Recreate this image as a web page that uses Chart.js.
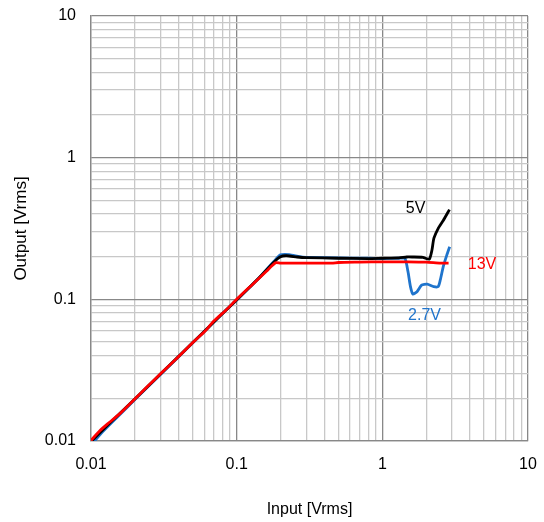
<!DOCTYPE html>
<html>
<head>
<meta charset="utf-8">
<script src="https://cdn.jsdelivr.net/npm/chart.js@4/dist/chart.umd.min.js"></script>
<style>
    html, body { margin: 0; padding: 0; background: #fff; }
    #wrap { width: 544px; height: 522px; }
</style>
</head>
<body>
<div id="wrap"><canvas id="chart"></canvas></div>
<script>
// decade ticks and the 2..9 steps inside each decade
const DECADES = [0.01, 0.1, 1, 10];
const DECADE_LABELS = ['0.01', '0.1', '1', '10'];
const MINOR_STEPS = [2, 3, 4, 5, 6, 7, 8, 9];

// 13V supply
const RED_X = [0.01, 0.0115, 0.013, 0.016, 0.02, 0.025, 0.03, 0.04, 0.05, 0.06, 0.07, 0.085, 0.1, 0.13, 0.16, 0.185, 0.2, 0.3, 0.45, 0.5, 0.7, 1.0, 1.5, 2.0, 2.5, 2.85];
const RED_Y = [0.0101, 0.0118, 0.0132, 0.0158, 0.0198, 0.0248, 0.0298, 0.0395, 0.0495, 0.059, 0.0705, 0.0845, 0.1, 0.129, 0.158, 0.181, 0.18, 0.18, 0.18, 0.182, 0.183, 0.184, 0.184, 0.183, 0.18, 0.18];

// 5V supply
const BLACK_X = [0.0102, 0.012, 0.015, 0.02, 0.03, 0.05, 0.07, 0.1, 0.14, 0.18, 0.2, 0.22, 0.26, 0.3, 0.5, 0.8, 1.0, 1.3, 1.47, 1.6, 1.9, 2.1, 2.19, 2.26, 2.42, 2.62, 2.89];
const BLACK_Y = [0.0101, 0.0119, 0.0149, 0.0198, 0.0297, 0.0495, 0.0695, 0.099, 0.139, 0.183, 0.2, 0.203, 0.199, 0.197, 0.195, 0.194, 0.195, 0.196, 0.199, 0.199, 0.198, 0.192, 0.222, 0.27, 0.317, 0.36, 0.43];

// 2.7V supply
const BLUE_X = [0.0105, 0.012, 0.015, 0.02, 0.03, 0.05, 0.07, 0.1, 0.14, 0.18, 0.2, 0.23, 0.27, 0.3, 0.5, 0.8, 1.0, 1.3, 1.43, 1.5, 1.56, 1.62, 1.73, 1.86, 2.03, 2.25, 2.42, 2.5, 2.62, 2.77, 2.9];
const BLUE_Y = [0.0099, 0.0116, 0.0146, 0.0196, 0.0295, 0.0493, 0.0695, 0.099, 0.139, 0.185, 0.206, 0.207, 0.2, 0.198, 0.196, 0.195, 0.194, 0.195, 0.194, 0.157, 0.123, 0.109, 0.113, 0.126, 0.128, 0.123, 0.123, 0.137, 0.17, 0.205, 0.235];

// series names placed next to their curves (data coordinates)
const SERIES_LABELS = [
    { text: '5V', x: 1.69, y: 0.44, color: '#000000' },
    { text: '13V', x: 4.83, y: 0.175, color: '#ff0000' },
    { text: '2.7V', x: 1.95, y: 0.077, color: '#1f74cc' },
];

const FONT = "'Liberation Sans', Arial, sans-serif";

const allTicks = [];
DECADES.forEach((d, i) => {
    allTicks.push(d);
    if (i < DECADES.length - 1) {
        MINOR_STEPS.forEach(s => allTicks.push(d * s));
    }
});

const isDecade = v => Math.abs(Math.log10(v) - Math.round(Math.log10(v))) < 1e-6;

const tickLabel = v => {
    const i = DECADES.findIndex(d => Math.abs(d - v) < d * 1e-6);
    return i >= 0 ? DECADE_LABELS[i] : '';
};

const points = (xs, ys) => xs.map((x, i) => ({ x, y: ys[i] }));

const line = (data, color) => ({
    data,
    showLine: true,
    borderColor: color,
    backgroundColor: color,
    borderWidth: 2.8,
    pointRadius: 0,
    tension: 0.2,
});

// fixed box size, no extra room for overhanging tick labels
const fixSize = (prop, size) => scale => {
    scale[prop] = size;
    scale.paddingTop = scale.paddingBottom = scale.paddingLeft = scale.paddingRight = 0;
};

const axis = (extra) => Object.assign({
    type: 'logarithmic',
    min: 0.01,
    max: 10,
    afterBuildTicks: scale => {
        scale.ticks = allTicks.map(value => ({ value }));
    },
    grid: {
        drawTicks: false,
        color: ctx => (ctx.tick && isDecade(ctx.tick.value) ? '#888888' : '#c8c8c8'),
        lineWidth: 1.3,
    },
    border: { color: '#888888', width: 1.3 },
}, extra);

const seriesLabels = {
    id: 'seriesLabels',
    afterDatasetsDraw(chart) {
        const { ctx, scales: { x, y } } = chart;
        ctx.save();
        ctx.font = '16px ' + FONT;
        ctx.textAlign = 'center';
        ctx.textBaseline = 'middle';
        SERIES_LABELS.forEach(l => {
            ctx.fillStyle = l.color;
            ctx.fillText(l.text, x.getPixelForValue(l.x), y.getPixelForValue(l.y));
        });
        ctx.restore();
    },
};

new Chart(document.getElementById('chart'), {
    type: 'scatter',
    data: {
        datasets: [
            line(points(RED_X, RED_Y), '#ff0000'),
            line(points(BLACK_X, BLACK_Y), '#000000'),
            line(points(BLUE_X, BLUE_Y), '#1f74cc'),
        ],
    },
    options: {
        responsive: true,
        maintainAspectRatio: false,
        animation: false,
        layout: { padding: { top: 16, right: 16, left: 0, bottom: 0 } },
        plugins: {
            legend: { display: false },
            tooltip: { enabled: false },
        },
        scales: {
            x: axis({
                afterFit: fixSize('height', 81),
                ticks: {
                    autoSkip: false,
                    maxRotation: 0,
                    padding: 14,
                    color: '#000',
                    font: { family: FONT, size: 16 },
                    callback: tickLabel,
                },
                title: {
                    display: true,
                    text: 'Input [Vrms]',
                    color: '#000',
                    font: { family: FONT, size: 16 },
                    padding: { top: 0, bottom: 3 },
                },
            }),
            y: axis({
                afterFit: fixSize('width', 91),
                ticks: {
                    autoSkip: false,
                    padding: 15,
                    color: '#000',
                    font: { family: FONT, size: 16 },
                    callback: tickLabel,
                },
                title: {
                    display: true,
                    text: 'Output [Vrms]',
                    color: '#000',
                    font: { family: FONT, size: 17 },
                    padding: { top: 11, bottom: 0 },
                },
            }),
        },
    },
    plugins: [seriesLabels],
});
</script>
</body>
</html>
